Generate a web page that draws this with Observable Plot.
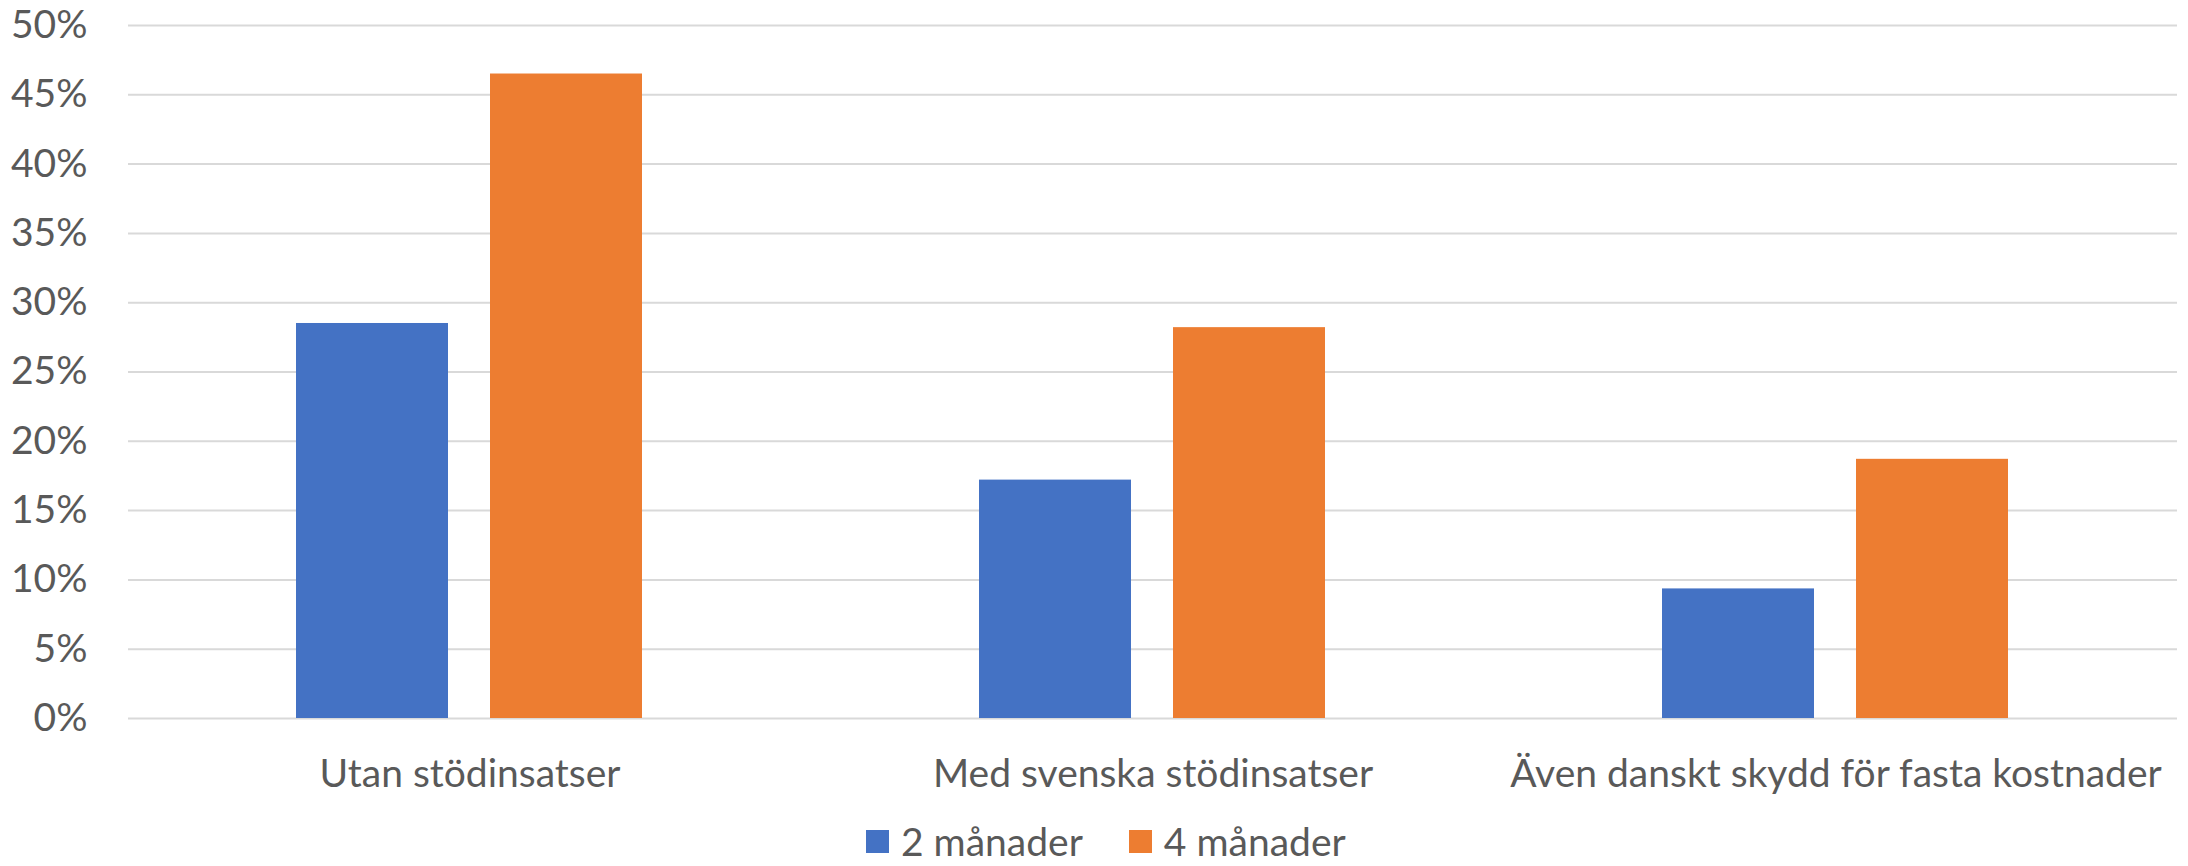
<!DOCTYPE html>
<html>
<head>
<meta charset="utf-8">
<script src="https://cdn.jsdelivr.net/npm/d3@7"></script>
<script src="https://cdn.jsdelivr.net/npm/@observablehq/plot@0.6"></script>
<style>
  html, body { margin: 0; padding: 0; background: #fff; overflow: hidden; }
  #wrap { position: relative; width: 2188px; height: 866px; font-family: Lato, "Liberation Sans", sans-serif; }
  #legend { position: absolute; left: 0; top: 816px; width: 2188px; height: 50px;
            display: flex; align-items: center; padding-left: 866px; box-sizing: border-box;
            font-size: 39px; color: #595959; }
  .item { display: flex; align-items: center; margin-right: 46px; }
  .sw { width: 23px; height: 23px; margin-right: 12px; }
</style>
</head>
<body>
<div id="wrap"><div id="chart"></div><div id="legend"></div></div>
<script>
const categories = ["Utan stödinsatser", "Med svenska stödinsatser", "Även danskt skydd för fasta kostnader"];
const series = ["2 månader", "4 månader"];
const values2 = [28.5, 17.2, 9.35];
const values4 = [46.5, 28.2, 18.7];
const colors = ["#4472c4", "#ed7d31"];
const yTicks = [0, 5, 10, 15, 20, 25, 30, 35, 40, 45, 50];

const table = [];
categories.forEach((c, i) => {
  table.push({category: c, series: series[0], value: values2[i]});
  table.push({category: c, series: series[1], value: values4[i]});
});

const chart = Plot.plot({
  width: 2188,
  height: 816,
  marginLeft: 128,
  marginRight: 11,
  marginTop: 25,
  marginBottom: 98,
  style: {fontFamily: 'Lato, "Liberation Sans", sans-serif', color: "#595959", background: "#fff"},
  fx: {domain: categories, padding: 0, axis: null},
  x: {domain: series, paddingInner: 0.215, paddingOuter: 0.859, axis: null},
  y: {domain: [0, 50], axis: null},
  color: {domain: series, range: colors},
  marks: [
    Plot.gridY(yTicks, {stroke: "#d9d9d9", strokeOpacity: 1, strokeWidth: 2}),
    Plot.axisY(yTicks, {tickSize: 0, tickPadding: 41, tickFormat: d => d + "%", fontSize: 39, fill: "#595959", label: null}),
    Plot.barY(table, {fx: "category", x: "series", y: "value", fill: "series"}),
    Plot.axisFx({anchor: "bottom", tickSize: 0, tickPadding: 41, fontSize: 39, fill: "#595959", label: null})
  ]
});
document.getElementById("chart").appendChild(chart);

const legend = document.getElementById("legend");
series.forEach((s, i) => {
  const it = document.createElement("div");
  it.className = "item";
  const sw = document.createElement("div");
  sw.className = "sw";
  sw.style.background = colors[i];
  const t = document.createElement("span");
  t.textContent = s;
  it.appendChild(sw); it.appendChild(t);
  legend.appendChild(it);
});
</script>
</body>
</html>
